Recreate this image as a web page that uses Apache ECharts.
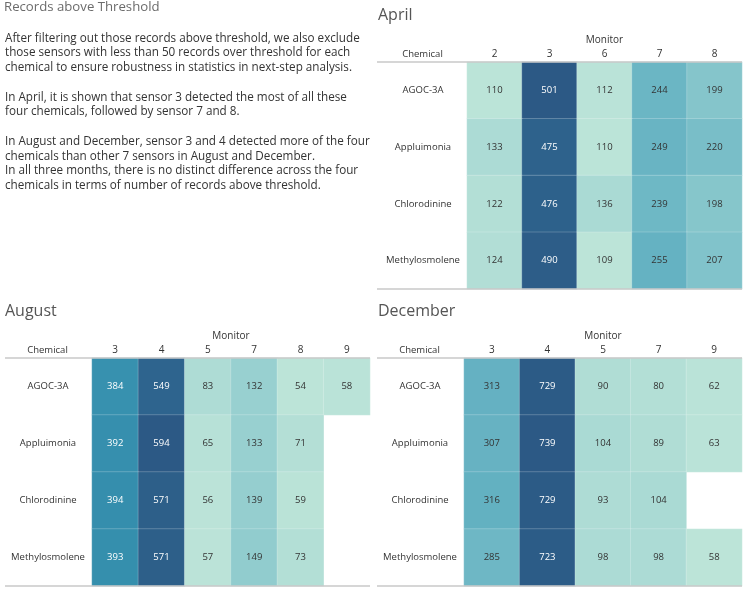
<!DOCTYPE html>
<html>
<head>
<meta charset="utf-8">
<script src="https://cdn.jsdelivr.net/npm/echarts@6/dist/echarts.min.js"></script>
<style>
html,body{margin:0;padding:0;background:#fff;}
#chart{width:750px;height:592px;}
</style>
</head>
<body>
<div id="chart"></div>
<script>
// ---------- DATA ----------
const chemicals = ['AGOC-3A', 'Appluimonia', 'Chlorodinine', 'Methylosmolene'];

const aprilMonitors = ['2', '3', '6', '7', '8'];
const aprilValues = [
  [110, 501, 112, 244, 199],
  [133, 475, 110, 249, 220],
  [122, 476, 136, 239, 198],
  [124, 490, 109, 255, 207]
];

const augustMonitors = ['3', '4', '5', '7', '8', '9'];
const augustValues = [
  [384, 549, 83, 132, 54, 58],
  [392, 594, 65, 133, 71, null],
  [394, 571, 56, 139, 59, null],
  [393, 571, 57, 149, 73, null]
];

const decemberMonitors = ['3', '4', '5', '7', '9'];
const decemberValues = [
  [313, 729, 90, 80, 62],
  [307, 739, 104, 89, 63],
  [316, 729, 93, 104, null],
  [285, 723, 98, 98, 58]
];

const pageTitle = 'Records above Threshold';
const bodyLines = [
  'After filtering out those records above threshold, we also exclude',
  'those sensors with less than 50 records over threshold for each',
  'chemical to ensure robustness in statistics in next-step analysis.',
  '',
  'In April, it is shown that sensor 3 detected the most of all these',
  'four chemicals, followed by sensor 7 and 8.',
  '',
  'In August and December, sensor 3 and 4 detected more of the four',
  'chemicals than other 7 sensors in August and December.',
  'In all three months, there is no distinct difference across the four',
  'chemicals in terms of number of records above threshold.'
];

// ---------- STYLE ----------
const FONT = '"Open Sans", "Noto Sans", sans-serif';
const palette = ['#bce4d8','#aedcd5','#a1d5d2','#95cecf','#89c8cc','#7ec1ca','#72bac6','#66b2c2','#59acbe','#4ba5ba','#419eb6','#3b96b2','#358ead','#3586a7','#347ea1','#32779b','#316f96','#2f6790','#2d608a','#2c5985'];

const panels = [
  {name: 'April', monitors: aprilMonitors, values: aprilValues,
   grid: {left: 467, top: 62, width: 275, height: 227}, lineLeft: 377, title: {left: 378, top: 7}},
  {name: 'August', monitors: augustMonitors, values: augustValues,
   grid: {left: 92, top: 358, width: 278, height: 228}, lineLeft: 5, title: {left: 5, top: 303.5}},
  {name: 'December', monitors: decemberMonitors, values: decemberValues,
   grid: {left: 464, top: 358, width: 278, height: 228}, lineLeft: 377, title: {left: 378, top: 303.5}}
];

const option = {
  animation: false,
  backgroundColor: '#fff',
  textStyle: {fontFamily: FONT},
  title: [
    {text: pageTitle, left: 4, top: 1, padding: 0,
     textStyle: {fontFamily: FONT, fontSize: 13.2, fontWeight: 'normal', color: '#6b6b6b'}},
    {text: bodyLines.join('\n'), left: 5, top: 31, padding: 0,
     textStyle: {fontFamily: FONT, fontSize: 11.7, lineHeight: 14.75, fontWeight: 'normal', color: '#333'}}
  ],
  grid: [], xAxis: [], yAxis: [], visualMap: [], series: [], graphic: []
};

panels.forEach((p, i) => {
  const flat = [];
  p.values.forEach(r => r.forEach(v => { if (v != null) flat.push(v); }));
  const vmin = Math.min(...flat), vmax = Math.max(...flat);
  const data = [];
  p.values.forEach((row, yi) => row.forEach((v, xi) => {
    if (v == null) return;
    const t = (v - vmin) / (vmax - vmin);
    data.push({value: [xi, yi, v], label: {color: t > 0.5 ? '#ffffff' : '#333333'}});
  }));

  option.title.push({text: p.name, left: p.title.left, top: p.title.top, padding: 0,
    textStyle: {fontFamily: FONT, fontSize: 16, fontWeight: 'normal', color: '#555'}});

  option.grid.push(Object.assign({containLabel: false}, p.grid));
  option.xAxis.push({
    type: 'category', gridIndex: i, position: 'top', data: p.monitors,
    name: 'Monitor', nameLocation: 'middle', nameGap: 16.5,
    nameTextStyle: {fontFamily: FONT, fontSize: 10, color: '#333'},
    axisLine: {show: false}, axisTick: {show: false}, splitLine: {show: false},
    axisLabel: {margin: 2.5, fontFamily: FONT, fontSize: 10, color: '#333'}
  });
  option.yAxis.push({
    type: 'category', gridIndex: i, inverse: true, data: chemicals,
    name: 'Chemical', nameLocation: 'start', nameGap: 3,
    nameTextStyle: {fontFamily: FONT, fontSize: 9.5, color: '#333', align: 'center', padding: [0, 89, 0, 0]},
    axisLine: {show: false}, axisTick: {show: false}, splitLine: {show: false},
    axisLabel: {margin: 44, align: 'center', fontFamily: FONT, fontSize: 9.5, color: '#333'}
  });
  option.visualMap.push({
    type: 'continuous', show: false, seriesIndex: i, dimension: 2,
    min: vmin, max: vmax, inRange: {color: palette}
  });
  option.series.push({
    type: 'heatmap', xAxisIndex: i, yAxisIndex: i, data: data,
    itemStyle: {borderColor: 'rgba(255,255,255,0.35)', borderWidth: 0.6},
    label: {show: true, fontFamily: FONT, fontSize: 9.5, formatter: d => d.value[2]},
    emphasis: {disabled: true}
  });
  const right = p.grid.left + p.grid.width;
  [p.grid.top, p.grid.top + p.grid.height].forEach(y => {
    option.graphic.push({type: 'line', silent: true, z: 10,
      shape: {x1: p.lineLeft, y1: y, x2: right, y2: y},
      style: {stroke: '#c8c8c8', lineWidth: 1.5}});
  });
});

const chart = echarts.init(document.getElementById('chart'), null, {renderer: 'canvas'});
chart.setOption(option);
</script>
</body>
</html>
